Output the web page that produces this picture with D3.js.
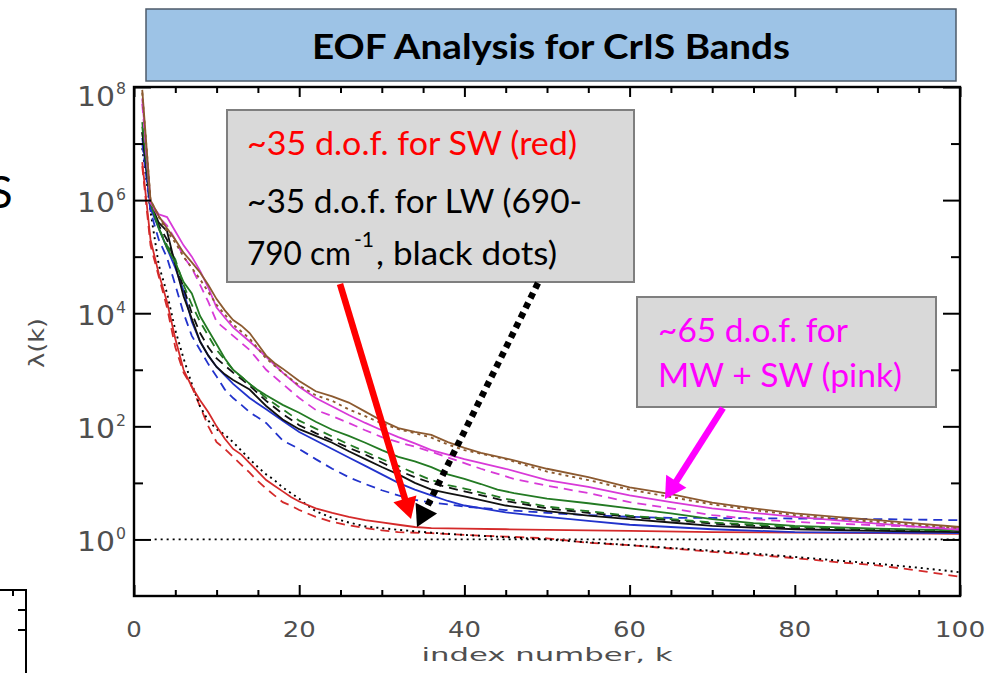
<!DOCTYPE html>
<html>
<head>
<meta charset="utf-8">
<script src="https://cdn.jsdelivr.net/npm/d3@7"></script>
<style>
  body { margin: 0; background: #ffffff; }
  svg { display: block; }
</style>
</head>
<body>
<div id="chart"></div>
<script>
// each series: [k, log10(lambda)]
const swSolid = [[1,6.67],[2,5.3],[3,4.7],[4,4.2],[5,3.55],[6,3.0],[7,2.7],[8,2.46],[9,2.25],[10,2.0],[11,1.78],[12,1.6],[13,1.5],[14,1.35],[15,1.2],[16,1.05],[17,0.95],[18,0.85],[19,0.75],[20,0.67],[22,0.55],[24,0.47],[26,0.4],[28,0.34],[30,0.3],[32,0.26],[34,0.22],[36,0.2],[40,0.19],[45,0.18],[50,0.17],[60,0.15],[70,0.13],[80,0.12],[90,0.11],[100,0.1]];
const swDashed = [[1,6.6],[2,5.2],[3,4.65],[4,4.1],[5,3.4],[6,2.95],[7,2.7],[8,2.35],[9,2.0],[10,1.72],[11,1.6],[12,1.46],[13,1.32],[14,1.18],[15,1.03],[16,0.9],[17,0.78],[18,0.66],[19,0.6],[20,0.52],[22,0.4],[24,0.31],[26,0.25],[28,0.2],[30,0.16],[32,0.13],[36,0.11],[40,0.08],[45,0.05],[50,0.02],[55,-0.06],[60,-0.1],[65,-0.16],[70,-0.22],[75,-0.27],[80,-0.33],[85,-0.4],[90,-0.46],[95,-0.55],[100,-0.66]];
const lwDotted = [[1,6.92],[2,5.8],[3,4.85],[4,4.35],[5,3.7],[6,3.2],[7,2.75],[8,2.35],[9,2.1],[10,1.95],[11,1.85],[12,1.72],[13,1.57],[14,1.42],[15,1.28],[16,1.15],[17,1.05],[18,0.92],[19,0.82],[20,0.72],[21,0.6],[22,0.5],[24,0.38],[26,0.3],[28,0.23],[30,0.2],[32,0.17],[36,0.12],[40,0.08],[45,0.04],[50,0.0],[55,-0.05],[60,-0.1],[65,-0.15],[70,-0.2],[75,-0.25],[80,-0.31],[85,-0.37],[90,-0.43],[95,-0.5],[100,-0.58]];
const unityLine = [[2.5,0],[100,0]];
const blueSolid = [[1,7.1],[2,5.85],[3,5.5],[4,5.15],[5,4.8],[6,4.4],[7,3.85],[8,3.5],[9,3.25],[10,3.05],[11,2.9],[12,2.75],[14,2.5],[16,2.3],[18,2.1],[20,1.9],[22,1.75],[24,1.6],[26,1.45],[28,1.3],[30,1.15],[32,1.0],[34,0.88],[36,0.78],[38,0.68],[40,0.6],[45,0.48],[50,0.4],[55,0.33],[60,0.26],[65,0.22],[70,0.18],[80,0.13],[90,0.12],[100,0.11]];
const blueDashed = [[1,7.0],[2,5.8],[3,5.3],[4,4.98],[5,4.5],[6,4.0],[7,3.6],[8,3.35],[9,3.1],[10,2.88],[11,2.65],[12,2.5],[13,2.38],[14,2.25],[16,2.06],[18,1.75],[20,1.6],[22,1.42],[24,1.25],[26,1.1],[28,0.98],[30,0.87],[32,0.78],[34,0.7],[36,0.65],[38,0.62],[40,0.58],[45,0.52],[50,0.47],[55,0.43],[60,0.4],[65,0.38],[70,0.38],[80,0.37],[90,0.36],[100,0.34]];
const blackSolid = [[1,7.2],[2,5.95],[3,5.6],[4,5.45],[5,4.85],[6,4.3],[7,3.9],[8,3.5],[9,3.25],[10,3.05],[11,2.92],[12,2.82],[14,2.65],[16,2.36],[18,2.12],[20,1.95],[22,1.83],[24,1.71],[26,1.56],[28,1.42],[30,1.28],[32,1.15],[34,1.0],[36,0.88],[38,0.82],[40,0.76],[45,0.6],[50,0.5],[55,0.42],[60,0.36],[65,0.3],[70,0.24],[80,0.18],[90,0.15],[100,0.13]];
const blackDashed = [[1,7.2],[2,5.95],[3,5.55],[4,5.3],[5,4.9],[6,4.45],[7,4.0],[8,3.65],[9,3.4],[10,3.2],[12,2.95],[14,2.72],[16,2.45],[18,2.22],[20,2.02],[22,1.88],[24,1.75],[26,1.62],[28,1.5],[30,1.36],[32,1.22],[34,1.1],[36,1.0],[38,0.92],[40,0.85],[45,0.68],[50,0.55],[55,0.47],[60,0.4],[65,0.34],[70,0.28],[80,0.2],[90,0.17],[100,0.15]];
const greenSolid = [[1,7.38],[2,5.95],[3,5.5],[4,5.15],[5,4.9],[6,4.55],[7,4.35],[8,3.95],[9,3.7],[10,3.45],[11,3.2],[12,3.0],[13,2.88],[14,2.75],[15,2.64],[16,2.55],[18,2.38],[20,2.24],[22,2.08],[24,1.94],[26,1.83],[28,1.71],[30,1.58],[32,1.46],[34,1.38],[36,1.28],[38,1.15],[40,1.07],[42,0.98],[44,0.88],[46,0.82],[50,0.72],[55,0.64],[60,0.55],[65,0.46],[70,0.36],[75,0.29],[80,0.24],[90,0.19],[100,0.16]];
const greenDashed = [[1,7.3],[2,5.95],[3,5.5],[4,5.2],[5,4.95],[6,4.5],[7,4.15],[8,3.85],[9,3.6],[10,3.35],[12,3.0],[14,2.75],[16,2.5],[18,2.3],[20,2.1],[22,1.96],[24,1.82],[26,1.68],[28,1.55],[30,1.42],[32,1.3],[34,1.17],[36,1.05],[38,0.96],[40,0.9],[45,0.72],[50,0.58],[55,0.5],[60,0.42],[65,0.36],[70,0.3],[80,0.22],[90,0.18],[100,0.15]];
const pinkSolid = [[1,7.8],[2,5.95],[3,5.75],[4,5.7],[5,5.45],[6,5.2],[7,5.0],[8,4.75],[9,4.45],[10,4.1],[11,3.92],[12,3.75],[14,3.5],[16,3.23],[18,2.95],[20,2.7],[22,2.5],[24,2.35],[26,2.2],[28,2.06],[30,1.93],[32,1.81],[34,1.7],[36,1.58],[38,1.5],[40,1.42],[45,1.25],[50,1.05],[55,0.93],[60,0.78],[65,0.66],[70,0.55],[75,0.47],[80,0.4],[90,0.28],[100,0.17]];
const pinkDashed = [[1,7.7],[2,5.95],[3,5.7],[4,5.55],[5,5.3],[6,5.0],[7,4.8],[8,4.5],[9,4.2],[10,3.85],[12,3.6],[14,3.35],[16,3.0],[18,2.75],[20,2.5],[22,2.29],[24,2.18],[26,2.06],[28,1.93],[30,1.81],[32,1.72],[34,1.64],[36,1.55],[38,1.45],[40,1.35],[42,1.25],[46,1.07],[50,0.95],[55,0.82],[60,0.66],[65,0.55],[70,0.43],[75,0.36],[80,0.31],[90,0.25],[100,0.2]];
const brownSolid = [[1,7.95],[2,6.0],[3,5.72],[4,5.5],[5,5.3],[6,5.07],[7,4.9],[8,4.72],[9,4.5],[10,4.25],[11,4.05],[12,3.88],[13,3.78],[14,3.65],[15,3.45],[16,3.25],[17,3.12],[18,3.02],[20,2.8],[22,2.62],[24,2.53],[26,2.42],[28,2.26],[30,2.1],[32,1.97],[34,1.9],[36,1.85],[38,1.72],[40,1.62],[42,1.53],[46,1.4],[50,1.25],[55,1.1],[60,0.92],[65,0.8],[70,0.65],[75,0.55],[80,0.46],[85,0.4],[90,0.34],[95,0.28],[100,0.22]];
const brownDotted = [[1,7.9],[2,6.0],[3,5.7],[4,5.45],[5,5.25],[6,5.0],[7,4.8],[8,4.6],[10,4.15],[12,3.8],[14,3.55],[16,3.2],[18,2.95],[20,2.72],[22,2.55],[24,2.45],[26,2.3],[28,2.18],[30,2.05],[32,1.95],[34,1.88],[36,1.8],[38,1.68],[40,1.58],[45,1.42],[50,1.2],[55,1.05],[60,0.88],[65,0.75],[70,0.62],[75,0.52],[80,0.43],[90,0.31],[100,0.2]];

const xMajorTicks = [0, 20, 40, 60, 80, 100];
const yMajorExponents = [0, 2, 4, 6, 8];
const yMinorExponents = [1, 3, 5, 7];

const titleText = "EOF Analysis for CrIS Bands";
const swLines = ["~35 d.o.f. for SW (red)", "~35 d.o.f. for LW (690-"];
const lwLastLine = ["790 cm", "-1", ", black dots)"];
const pinkLines = ["~65 d.o.f. for", "MW + SW (pink)"];

function arrow(g, sx, sy, tx, ty, color, dash) {
    const len = Math.hypot(tx - sx, ty - sy);
    const ux = (tx - sx) / len, uy = (ty - sy) / len;
    const headL = 21, headW = 12;
    const bx = tx - ux * headL, by = ty - uy * headL;
    g.append("line")
        .attr("x1", sx).attr("y1", sy)
        .attr("x2", bx + ux * 2).attr("y2", by + uy * 2)
        .attr("stroke", color)
        .attr("stroke-width", 6.5)
        .attr("stroke-dasharray", dash || null);
    g.append("polygon")
        .attr("points", [[tx, ty], [bx - uy * headW, by + ux * headW], [bx + uy * headW, by - ux * headW]].join(" "))
        .attr("fill", color);
}

function drawChart() {
    const width = 991, height = 673;
    const plot = { left: 134, right: 960, top: 87, bottom: 596 };
    const tickFont = "'DejaVu Sans', sans-serif";
    const slideFont = "Lato, 'Open Sans', sans-serif";
    const tickColor = "#4f4f4f";

    const svg = d3.select("#chart")
        .append("svg")
        .attr("width", width)
        .attr("height", height)
        .style("background", "#ffffff");

    const x = d3.scaleLinear().domain([0, 100]).range([plot.left, plot.right]);
    const y = d3.scaleLog().domain([0.1, 1e8]).range([plot.bottom, plot.top]);

    // bits of the neighbouring slide content (cut off in the original too)
    svg.append("text")
        .attr("x", 12.5).attr("y", 208)
        .attr("text-anchor", "end")
        .style("font-family", slideFont)
        .style("font-size", "44px")
        .text("S");
    svg.append("path")
        .attr("d", "M0,590 H26 V673 M13,590 V596 M26,610 H18 M26,630 H18")
        .attr("fill", "none")
        .attr("stroke", "#000")
        .attr("stroke-width", 2);

    // title banner
    svg.append("rect")
        .attr("x", 146).attr("y", 9)
        .attr("width", 810).attr("height", 72)
        .attr("fill", "#9dc3e6")
        .attr("stroke", "#4d5b6a")
        .attr("stroke-width", 1.5);
    svg.append("text")
        .attr("x", 312).attr("y", 59)
        .attr("textLength", 478)
        .attr("lengthAdjust", "spacingAndGlyphs")
        .style("font-family", slideFont)
        .style("font-weight", "bold")
        .style("font-size", "35px")
        .style("fill", "#000")
        .text(titleText);

    svg.append("defs").append("clipPath")
        .attr("id", "plot-clip")
        .append("rect")
        .attr("x", plot.left).attr("y", plot.top)
        .attr("width", plot.right - plot.left)
        .attr("height", plot.bottom - plot.top);

    const line = d3.line()
        .x(d => x(d[0]))
        .y(d => y(Math.pow(10, d[1])));

    const series = [
        { data: unityLine, color: "#000000", dash: "2,4", width: 1.7 },
        { data: swDashed, color: "#d42a2a", dash: "9,6", width: 1.8 },
        { data: lwDotted, color: "#000000", dash: "2,4", width: 1.9 },
        { data: swSolid, color: "#d42a2a", dash: null, width: 1.8 },
        { data: blueDashed, color: "#2233cc", dash: "9,6", width: 1.8 },
        { data: blueSolid, color: "#2233cc", dash: null, width: 1.8 },
        { data: blackDashed, color: "#111111", dash: "9,6", width: 1.8 },
        { data: greenDashed, color: "#237a23", dash: "9,6", width: 1.8 },
        { data: blackSolid, color: "#111111", dash: null, width: 1.8 },
        { data: greenSolid, color: "#237a23", dash: null, width: 1.8 },
        { data: pinkDashed, color: "#d83ad8", dash: "9,6", width: 1.8 },
        { data: pinkSolid, color: "#d83ad8", dash: null, width: 1.8 },
        { data: brownDotted, color: "#8c5a30", dash: "3,4", width: 1.9 },
        { data: brownSolid, color: "#8c5a30", dash: null, width: 1.8 }
    ];

    const curves = svg.append("g").attr("clip-path", "url(#plot-clip)");
    series.forEach(s => {
        curves.append("path")
            .datum(s.data)
            .attr("d", line)
            .attr("fill", "none")
            .attr("stroke", s.color)
            .attr("stroke-width", s.width)
            .attr("stroke-dasharray", s.dash);
    });

    // axes, ticks pointing inward on all four sides
    const axisStyle = g => {
        g.select(".domain").remove();
        g.selectAll("line").attr("stroke", "#000").attr("stroke-width", 2);
        g.selectAll("text").remove();
    };
    const minorX = d3.range(0, 101, 5).filter(v => v % 20 !== 0);
    svg.append("g").attr("transform", `translate(0,${plot.bottom})`)
        .call(d3.axisBottom(x).tickValues(xMajorTicks).tickSize(-11)).call(axisStyle);
    svg.append("g").attr("transform", `translate(0,${plot.bottom})`)
        .call(d3.axisBottom(x).tickValues(minorX).tickSize(-6)).call(axisStyle);
    svg.append("g").attr("transform", `translate(0,${plot.top})`)
        .call(d3.axisTop(x).tickValues(xMajorTicks).tickSize(-10)).call(axisStyle);
    svg.append("g").attr("transform", `translate(0,${plot.top})`)
        .call(d3.axisTop(x).tickValues(minorX).tickSize(-6)).call(axisStyle);

    const majorY = yMajorExponents.map(e => Math.pow(10, e));
    const minorY = yMinorExponents.map(e => Math.pow(10, e));
    svg.append("g").attr("transform", `translate(${plot.left},0)`)
        .call(d3.axisLeft(y).tickValues(majorY).tickSize(-17)).call(axisStyle);
    svg.append("g").attr("transform", `translate(${plot.left},0)`)
        .call(d3.axisLeft(y).tickValues(minorY).tickSize(-9)).call(axisStyle);
    svg.append("g").attr("transform", `translate(${plot.right},0)`)
        .call(d3.axisRight(y).tickValues(majorY).tickSize(-17)).call(axisStyle);
    svg.append("g").attr("transform", `translate(${plot.right},0)`)
        .call(d3.axisRight(y).tickValues(minorY).tickSize(-9)).call(axisStyle);

    svg.append("rect")
        .attr("x", plot.left).attr("y", plot.top)
        .attr("width", plot.right - plot.left)
        .attr("height", plot.bottom - plot.top)
        .attr("fill", "none")
        .attr("stroke", "#000")
        .attr("stroke-width", 2.4);

    // tick labels
    svg.selectAll(".x-label")
        .data(xMajorTicks)
        .enter().append("text")
        .attr("class", "x-label")
        .attr("x", d => x(d))
        .attr("y", plot.bottom + 41)
        .attr("text-anchor", "middle")
        .attr("textLength", d => String(d).length * 17.5 - 2)
        .attr("lengthAdjust", "spacingAndGlyphs")
        .style("font-family", tickFont)
        .style("font-size", "22px")
        .style("fill", tickColor)
        .text(d => d);

    const yLabels = svg.selectAll(".y-label")
        .data(yMajorExponents)
        .enter().append("g")
        .attr("class", "y-label")
        .attr("transform", d => `translate(0,${Math.max(y(Math.pow(10, d)) + 12, plot.top + 19)})`);
    yLabels.append("text")
        .attr("x", 115)
        .attr("text-anchor", "end")
        .attr("textLength", 38)
        .attr("lengthAdjust", "spacingAndGlyphs")
        .style("font-family", tickFont)
        .style("font-size", "26px")
        .style("fill", tickColor)
        .text("10");
    yLabels.append("text")
        .attr("x", 116)
        .attr("y", -12)
        .attr("textLength", 10)
        .attr("lengthAdjust", "spacingAndGlyphs")
        .style("font-family", tickFont)
        .style("font-size", "15px")
        .style("fill", tickColor)
        .text(d => d);

    svg.append("text")
        .attr("x", 547).attr("y", 661)
        .attr("text-anchor", "middle")
        .attr("textLength", 251)
        .attr("lengthAdjust", "spacingAndGlyphs")
        .style("font-family", tickFont)
        .style("font-size", "17px")
        .style("fill", tickColor)
        .text("index number, k");

    svg.append("text")
        .attr("transform", "translate(44,343) rotate(-90)")
        .attr("text-anchor", "middle")
        .attr("textLength", 50)
        .attr("lengthAdjust", "spacingAndGlyphs")
        .style("font-family", tickFont)
        .style("font-size", "22px")
        .style("fill", tickColor)
        .text("λ(k)");

    // annotation boxes
    const notes = svg.append("g").style("font-family", slideFont).style("font-size", "33px");

    notes.append("rect")
        .attr("x", 227).attr("y", 110)
        .attr("width", 407).attr("height", 172)
        .attr("fill", "#d9d9d9")
        .attr("stroke", "#7f7f7f")
        .attr("stroke-width", 2);
    notes.append("text")
        .attr("x", 247).attr("y", 155)
        .attr("textLength", 330)
        .attr("lengthAdjust", "spacingAndGlyphs")
        .style("fill", "#ff0000")
        .text(swLines[0]);
    notes.append("text")
        .attr("x", 247).attr("y", 213)
        .attr("textLength", 335)
        .attr("lengthAdjust", "spacingAndGlyphs")
        .style("fill", "#000")
        .text(swLines[1]);
    notes.append("text")
        .attr("x", 247).attr("y", 265)
        .attr("textLength", 104)
        .attr("lengthAdjust", "spacingAndGlyphs")
        .style("fill", "#000")
        .text(lwLastLine[0]);
    notes.append("text")
        .attr("x", 354).attr("y", 247)
        .attr("textLength", 20)
        .attr("lengthAdjust", "spacingAndGlyphs")
        .style("font-size", "21px")
        .style("fill", "#000")
        .text(lwLastLine[1]);
    notes.append("text")
        .attr("x", 376).attr("y", 265)
        .attr("textLength", 181)
        .attr("lengthAdjust", "spacingAndGlyphs")
        .style("fill", "#000")
        .text(lwLastLine[2]);

    notes.append("rect")
        .attr("x", 637).attr("y", 297)
        .attr("width", 299).attr("height", 110)
        .attr("fill", "#d9d9d9")
        .attr("stroke", "#7f7f7f")
        .attr("stroke-width", 2);
    notes.append("text")
        .attr("x", 658).attr("y", 342)
        .attr("textLength", 190)
        .attr("lengthAdjust", "spacingAndGlyphs")
        .style("fill", "#ff00ff")
        .text(pinkLines[0]);
    notes.append("text")
        .attr("x", 658).attr("y", 387)
        .attr("textLength", 244)
        .attr("lengthAdjust", "spacingAndGlyphs")
        .style("fill", "#ff00ff")
        .text(pinkLines[1]);

    const arrows = svg.append("g");
    arrow(arrows, 340, 284, 411, 519, "#ff0000");
    arrow(arrows, 538, 283, 417, 527, "#000000", "6,5");
    arrow(arrows, 723, 408, 665, 499, "#ff00ff");
}

drawChart();
</script>
</body>
</html>
